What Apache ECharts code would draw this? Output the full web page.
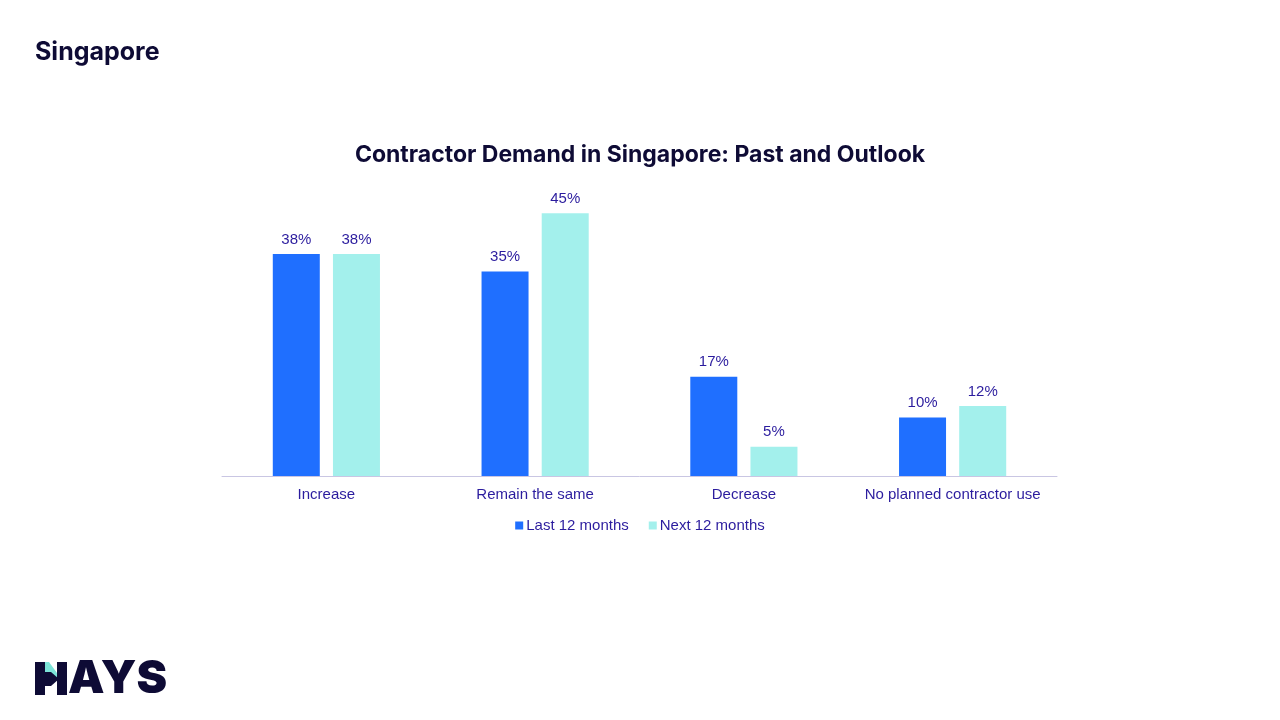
<!DOCTYPE html>
<html>
<head>
<meta charset="utf-8">
<script src="https://cdn.jsdelivr.net/npm/echarts@6/dist/echarts.min.js"></script>
<style>
  html, body { margin: 0; padding: 0; background: #fff; }
  #chart { width: 1280px; height: 720px; }
</style>
</head>
<body>
<div id="chart"></div>
<script>
// 数据
const categories = ['Increase', 'Remain the same', 'Decrease', 'No planned contractor use']
const lastYear = [38, 35, 17, 10]
const nextYear = [38, 45, 5, 12]
const seriesNames = ['Last 12 months', 'Next 12 months']

const navy = '#0e0b35'
const labelColor = '#2b1c9e'
const fontFamily = 'Liberation Sans, Arial, sans-serif'

let myChart = echarts.init(document.getElementById('chart'))

const barLabel = {
    show: true,
    position: 'top',
    distance: 7,
    color: labelColor,
    fontSize: 15,
    fontFamily: fontFamily,
    formatter: '{c}%'
}

myChart.setOption({
    backgroundColor: '#ffffff',
    animation: false,
    title: {
        text: 'Contractor Demand in Singapore: Past and Outlook',
        left: 'center',
        top: 139,
        textStyle: {
            color: navy,
            fontSize: 23,
            fontWeight: 'bold',
            fontFamily: 'Inter, sans-serif'
        }
    },
    legend: {
        data: seriesNames,
        left: 'center',
        top: 513,
        icon: 'rect',
        itemWidth: 8,
        itemHeight: 8,
        itemGap: 20,
        textStyle: {
            color: labelColor,
            fontSize: 15,
            fontFamily: fontFamily,
            padding: [0, 0, 0, -2]
        }
    },
    grid: {
        left: 222,
        right: 1280 - 1057,
        top: 184,
        bottom: 720 - 476,
        containLabel: false
    },
    xAxis: {
        type: 'category',
        data: categories,
        axisLine: { lineStyle: { color: '#c9c6e3', width: 1 } },
        axisTick: { show: false },
        axisLabel: {
            interval: 0,
            color: labelColor,
            fontSize: 15,
            fontFamily: fontFamily,
            margin: 11
        }
    },
    yAxis: {
        type: 'value',
        min: 0,
        max: 50,
        show: false,
        splitLine: { show: false }
    },
    series: [
        {
            name: seriesNames[0],
            type: 'bar',
            data: lastYear,
            barWidth: 47,
            barGap: '28%',
            itemStyle: { color: '#1f6fff' },
            label: barLabel
        },
        {
            name: seriesNames[1],
            type: 'bar',
            data: nextYear,
            barWidth: 47,
            itemStyle: { color: '#a3f0ec' },
            label: barLabel
        }
    ],
    graphic: [
        {
            type: 'text',
            left: 35,
            top: 40,
            style: {
                text: 'Singapore',
                fill: navy,
                font: 'bold 25px Inter, sans-serif'
            }
        },
        // HAYS 标志：H 由两竖和一个箭头组成
        { type: 'rect', shape: { x: 35, y: 662, width: 10, height: 33 }, style: { fill: navy } },
        { type: 'rect', shape: { x: 57, y: 662, width: 10, height: 33 }, style: { fill: navy } },
        {
            type: 'polygon',
            shape: { points: [[45, 662], [49, 662], [57, 673], [57, 679], [45, 679]] },
            style: { fill: '#7ce3d8' }
        },
        {
            type: 'polygon',
            shape: { points: [[45, 672], [51, 672], [59, 679], [51, 686], [45, 686]] },
            style: { fill: navy }
        },
        {
            type: 'text',
            x: 68,
            y: 679,
            style: {
                text: 'AYS',
                fill: navy,
                font: '900 46px Inter, sans-serif',
                verticalAlign: 'middle'
            }
        }
    ]
})

window.addEventListener('resize', function () {
    myChart.resize()
})
</script>
</body>
</html>
